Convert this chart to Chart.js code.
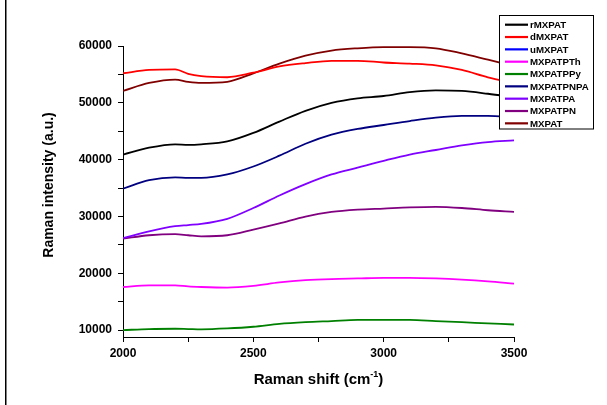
<!DOCTYPE html>
<html>
<head>
<meta charset="utf-8">
<title>Raman spectra</title>
<script src="https://cdn.jsdelivr.net/npm/chart.js@4.4.1/dist/chart.umd.min.js"></script>
<style>
  html, body { margin: 0; padding: 0; background: #fff; }
  #wrap { width: 607px; height: 405px; position: relative; }
</style>
</head>
<body>
<div id="wrap"><canvas id="ramanChart"></canvas></div>
<script>
// Raman shift sample points (cm-1)
const ramanShift = [2000, 2100, 2200, 2250, 2300, 2400, 2500, 2600, 2700, 2800, 2900, 3000, 3100, 3200, 3300, 3400, 3500];

// Intensity per sample (a.u.)
const rMXPAT     = [40900, 42100, 42700, 42600, 42700, 43200, 44700, 46700, 48600, 50000, 50800, 51200, 51900, 52200, 52100, 51600, 51000];
const dMXPAT     = [55200, 55800, 55900, 55100, 54700, 54500, 55300, 56400, 57000, 57400, 57400, 57100, 56900, 56600, 55800, 54500, 53500];
const uMXPAT     = [];
const MXPATPTh   = [17600, 17900, 17900, 17700, 17600, 17500, 17800, 18400, 18800, 19000, 19100, 19200, 19200, 19100, 18900, 18600, 18200];
const MXPATPPy   = [10000, 10200, 10250, 10200, 10150, 10300, 10600, 11100, 11400, 11600, 11800, 11800, 11800, 11600, 11400, 11200, 11000];
const MXPATPNPA  = [34900, 36400, 36900, 36800, 36800, 37400, 38800, 40700, 42800, 44400, 45400, 46100, 46800, 47400, 47700, 47700, 47500];
const MXPATPA    = [26200, 27400, 28300, 28500, 28700, 29600, 31500, 33700, 35700, 37400, 38600, 39800, 40900, 41700, 42500, 43100, 43400];
const MXPATPN    = [26100, 26700, 26900, 26700, 26500, 26700, 27700, 28800, 30000, 30800, 31200, 31400, 31600, 31700, 31500, 31100, 30800];
const MXPAT      = [52100, 53500, 54100, 53700, 53500, 53700, 55200, 56900, 58300, 59200, 59600, 59800, 59800, 59600, 58700, 57600, 56500];

const seriesNames = ['rMXPAT', 'dMXPAT', 'uMXPAT', 'MXPATPTh', 'MXPATPPy', 'MXPATPNPA', 'MXPATPA', 'MXPATPN', 'MXPAT'];
const seriesValues = [rMXPAT, dMXPAT, uMXPAT, MXPATPTh, MXPATPPy, MXPATPNPA, MXPATPA, MXPATPN, MXPAT];
const seriesColors = ['#000000', '#ff0000', '#0000ff', '#ff00ff', '#008000', '#000080', '#8000ff', '#800080', '#800000'];

// Tick positions (minor ones carry no label)
const xTicks = [2000, 2250, 2500, 2750, 3000, 3250, 3500];
const yTicks = [10000, 15000, 20000, 25000, 30000, 35000, 40000, 45000, 50000, 55000, 60000];

const FONT = '"Liberation Sans", Arial, sans-serif';

// Frame line, axis titles and the boxed legend
const decorPlugin = {
    id: 'decor',
    afterDraw(chart) {
        const ctx = chart.ctx;
        const area = chart.chartArea;
        ctx.save();

        // left frame edge
        ctx.fillStyle = '#000';
        ctx.fillRect(5, 0, 1.5, chart.height);

        // x title with superscript
        ctx.fillStyle = '#000';
        ctx.textBaseline = 'alphabetic';
        const main = 'Raman shift (cm';
        const sup = '-1';
        ctx.font = 'bold 15px ' + FONT;
        const wMain = ctx.measureText(main).width;
        const wClose = ctx.measureText(')').width;
        ctx.font = 'bold 9px ' + FONT;
        const wSup = ctx.measureText(sup).width;
        const total = wMain + wSup + wClose;
        let tx = (area.left + area.right) / 2 - total / 2;
        const ty = 384;
        ctx.font = 'bold 15px ' + FONT;
        ctx.textAlign = 'left';
        ctx.fillText(main, tx, ty);
        ctx.font = 'bold 9px ' + FONT;
        ctx.fillText(sup, tx + wMain, ty - 7);
        ctx.font = 'bold 15px ' + FONT;
        ctx.fillText(')', tx + wMain + wSup, ty);

        // y title
        ctx.save();
        ctx.translate(49, 185);
        ctx.rotate(-Math.PI / 2);
        ctx.font = 'bold 14px ' + FONT;
        ctx.textAlign = 'center';
        ctx.textBaseline = 'middle';
        ctx.fillText('Raman intensity (a.u.)', 0, 0);
        ctx.restore();

        // legend box
        const bx = 499.5, by = 15.5, bw = 94, bh = 113.5;
        ctx.fillStyle = '#fff';
        ctx.fillRect(bx, by, bw, bh);
        ctx.strokeStyle = '#000';
        ctx.lineWidth = 1;
        ctx.strokeRect(bx, by, bw, bh);
        ctx.font = 'bold 9.7px ' + FONT;
        ctx.textAlign = 'left';
        ctx.textBaseline = 'middle';
        chart.data.datasets.forEach((ds, i) => {
            const rowY = 24.7 + i * 12.33;
            ctx.strokeStyle = ds.borderColor;
            ctx.lineWidth = 2.2;
            ctx.beginPath();
            ctx.moveTo(505, rowY);
            ctx.lineTo(528, rowY);
            ctx.stroke();
            ctx.fillStyle = '#000';
            ctx.fillText(ds.label, 530, rowY + 0.5);
        });
        ctx.restore();
    }
};

function buildDatasets() {
    return seriesNames.map((name, i) => ({
        label: name,
        data: seriesValues[i].map((v, j) => ({ x: ramanShift[j], y: v })),
        borderColor: seriesColors[i],
        backgroundColor: seriesColors[i],
        borderWidth: 1.8,
        pointRadius: 0,
        cubicInterpolationMode: 'monotone',
        fill: false
    }));
}

const ctx = document.getElementById('ramanChart').getContext('2d');
const ramanChart = new Chart(ctx, {
    type: 'line',
    data: { datasets: buildDatasets() },
    plugins: [decorPlugin],
    options: {
        responsive: true,
        maintainAspectRatio: false,
        animation: false,
        layout: { padding: { left: 0, top: 46, right: 93, bottom: 0 } },
        plugins: {
            legend: { display: false },
            tooltip: { enabled: false }
        },
        scales: {
            x: {
                type: 'linear',
                min: 2000,
                max: 3500,
                afterFit(scale) { scale.height = 68; },
                afterBuildTicks(scale) { scale.ticks = xTicks.map(v => ({ value: v })); },
                border: { display: true, color: '#000', width: 1 },
                grid: { drawOnChartArea: false, color: '#000', tickLength: 5 },
                ticks: {
                    color: '#000',
                    padding: 4,
                    maxRotation: 0,
                    autoSkip: false,
                    font: { family: FONT, size: 12, weight: 'bold' },
                    callback: v => (v % 500 === 0 ? String(v) : '')
                }
            },
            y: {
                type: 'linear',
                min: 8800,
                max: 60000,
                afterFit(scale) { scale.width = 123; },
                afterBuildTicks(scale) { scale.ticks = yTicks.map(v => ({ value: v })); },
                border: { display: true, color: '#000', width: 1 },
                grid: { drawOnChartArea: false, color: '#000', tickLength: 5 },
                ticks: {
                    color: '#000',
                    padding: 6,
                    autoSkip: false,
                    font: { family: FONT, size: 12, weight: 'bold' },
                    callback: v => (v % 10000 === 0 ? String(v) : '')
                }
            }
        }
    }
});
</script>
</body>
</html>
